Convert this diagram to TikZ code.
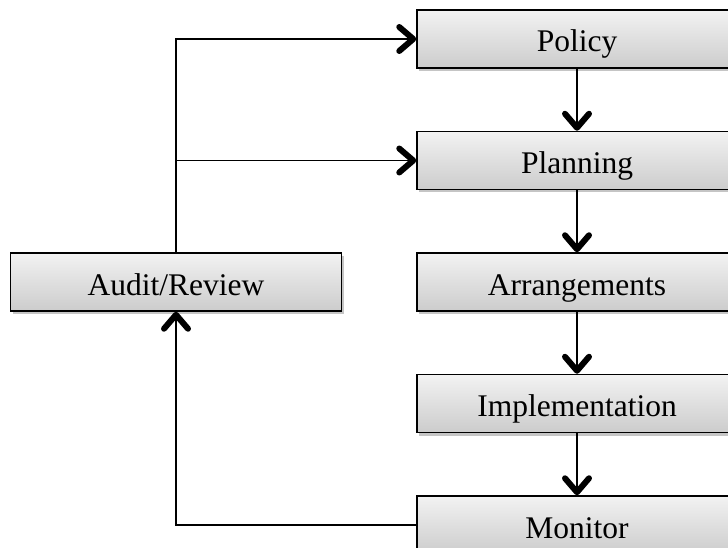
\documentclass[tikz,border=0pt]{standalone}
\usepackage{fontspec}
\setmainfont{Liberation Serif}
\usetikzlibrary{positioning,shadows,arrows.meta}

\begin{document}
\begin{tikzpicture}[x = 1pt, y = -1pt,
	box/.style = {draw, line width = 1.5pt, top color = black!5, bottom color = black!20,
		minimum width = \W, minimum height = \H, inner sep = 0pt,
		text height = 30pt, text depth = 4pt,
		font = \fontsize{31.5}{36}\selectfont,
		drop shadow = {shadow xshift = 2pt, shadow yshift = -3pt, fill = black!45, opacity = 0.5}},
	arr/.style = {line width = 1.6pt, -{Straight Barb[length = 14pt, width = 24pt, line width = 6pt, round]}}
	]

	% Definition

	\def\W{320pt}
	\def\H{58pt}
	\def\G{62pt}

	\useasboundingbox (0, 0) rectangle (728, 548);

	% Cycle boxes

	\node [box] (policy) at (577, 39) {Policy};
	\node [box, below = \G of policy] (planning) {Planning};
	\node [box, below = \G of planning] (arrange) {Arrangements};
	\node [box, below = \G of arrange] (implement) {Implementation};
	\node [box, below = \G of implement] (monitor) {Monitor};
	\node [box, left = 74pt of arrange, minimum width = 331pt] (audit) {Audit/Review};

	% Arrows

	\draw [arr] (policy) -- (planning);
	\draw [arr] (planning) -- (arrange);
	\draw [arr] (arrange) -- (implement);
	\draw [arr] (implement) -- (monitor);
	\draw [arr] (monitor.west) -| (audit.south);
	\draw [arr] (audit.north) |- (policy.west);
	\draw [arr] (audit.north) |- (planning.west);

\end{tikzpicture}
\end{document}
